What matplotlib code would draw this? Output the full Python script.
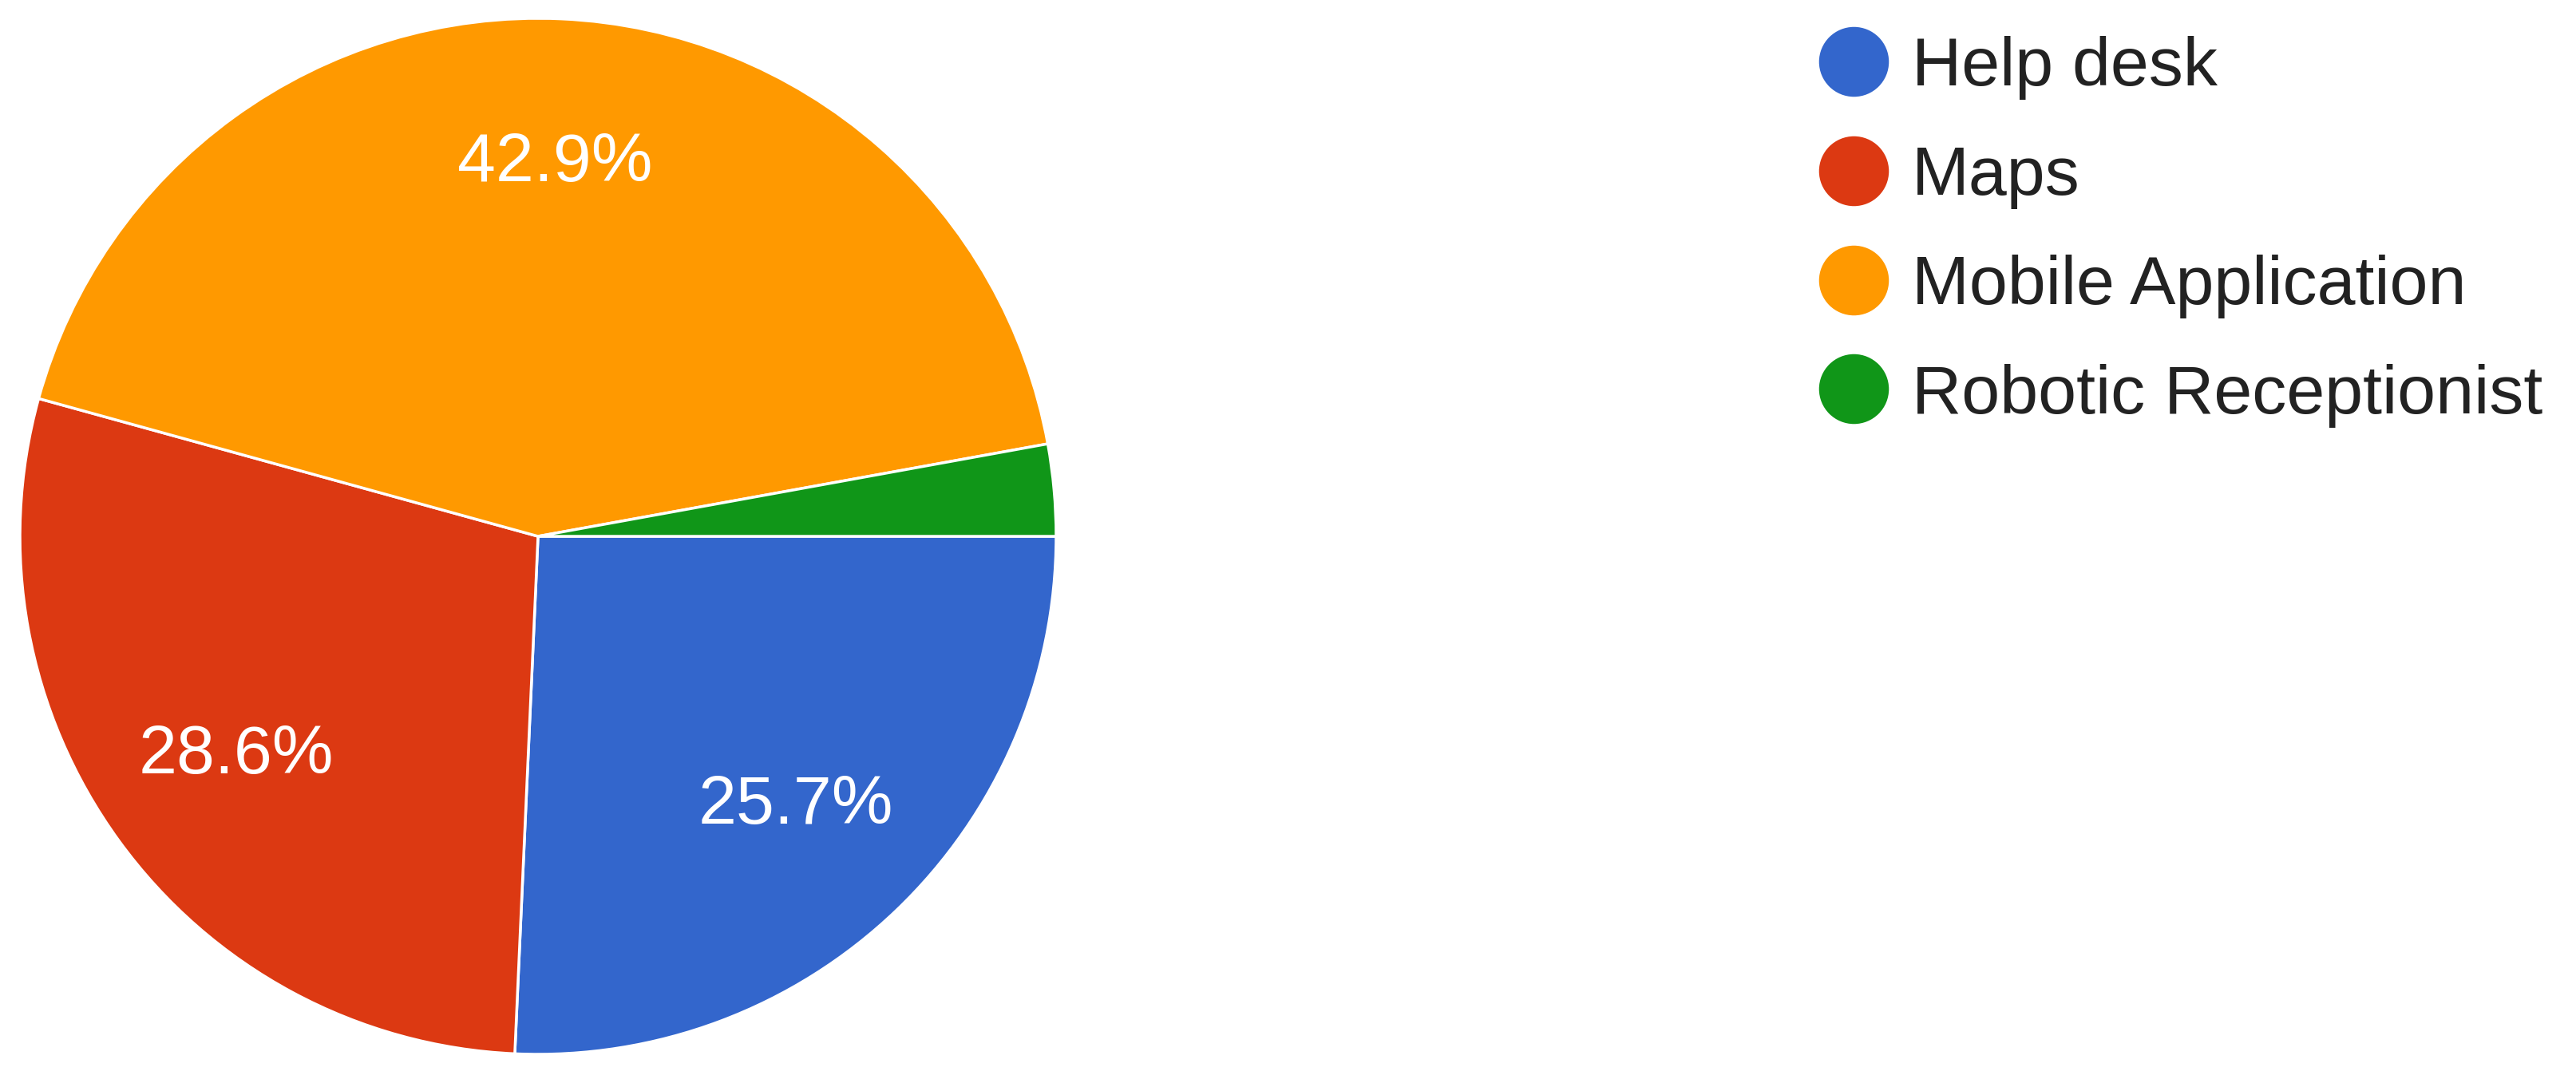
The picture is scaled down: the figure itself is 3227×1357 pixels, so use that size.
import matplotlib
matplotlib.use("Agg")
import matplotlib.pyplot as plt
from matplotlib.lines import Line2D

plt.rcParams['font.family'] = ['Liberation Sans', 'DejaVu Sans']

# Survey answers (35 responses)
categories = ["Help desk", "Maps", "Mobile Application", "Robotic Receptionist"]
counts = [9, 10, 15, 1]
colors = ["#3366cc", "#dc3912", "#ff9900", "#109618"]

fig = plt.figure(figsize=(32.27, 13.57), dpi=100)

# pie axes, placed so the circle sits at the left like the original
ax = fig.add_axes([25 / 3227, 36 / 1357, 1298 / 3227, 1298 / 1357])


def pct_label(p):
    # small slices get no label, like the google chart
    return f'{p:.1f}%' if p > 5 else ''


wedges, texts, autotexts = ax.pie(
    counts,
    colors=colors,
    startangle=0,
    counterclock=False,
    autopct=pct_label,
    pctdistance=0.72,
    wedgeprops=dict(edgecolor='white', linewidth=2.5),
    textprops=dict(color='white', fontsize=62),
)
ax.set_xlim(-1.0, 1.0)
ax.set_ylim(-1.0, 1.0)
ax.set_aspect('equal')
ax.axis('off')

# legend with round markers
handles = [Line2D([0], [0], marker='o', linestyle='none', markersize=63,
                  markerfacecolor=c, markeredgecolor='none') for c in colors]
fig.legend(handles, categories, loc='upper left',
           bbox_to_anchor=(2279 / 3227, 1 - 45 / 1357),
           frameon=False, fontsize=62, labelcolor='#222222',
           handlelength=1.0, handletextpad=0.35, labelspacing=0.66,
           borderaxespad=0, borderpad=0)

fig.savefig("out.png", dpi=100, facecolor='white')
